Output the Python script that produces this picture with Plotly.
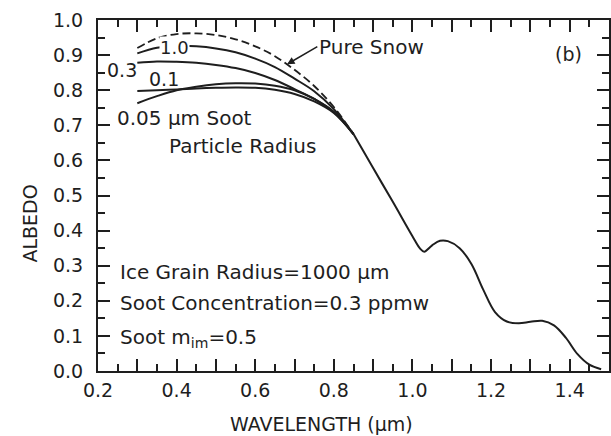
import plotly.graph_objects as go

# wavelength grid (um) for the spectrally separated part of the curves
wl_upper = [0.30, 0.35, 0.40, 0.45, 0.50, 0.55, 0.60, 0.65, 0.70, 0.75, 0.80, 0.85]
pure_snow = [0.920, 0.948, 0.960, 0.962, 0.957, 0.945, 0.925, 0.897, 0.858, 0.812, 0.752, 0.675]
soot_10 = [0.905, 0.921, 0.926, 0.925, 0.919, 0.908, 0.890, 0.866, 0.833, 0.797, 0.746, 0.675]
soot_03 = [0.878, 0.882, 0.881, 0.878, 0.872, 0.863, 0.849, 0.829, 0.803, 0.775, 0.738, 0.675]
soot_01 = [0.798, 0.800, 0.802, 0.805, 0.807, 0.808, 0.807, 0.801, 0.789, 0.768, 0.735, 0.675]
soot_005 = [0.763, 0.783, 0.800, 0.810, 0.817, 0.820, 0.819, 0.813, 0.800, 0.775, 0.738, 0.675]

# common tail (all curves coincide beyond ~0.85 um)
wl_tail = [0.85, 0.90, 0.95, 1.00, 1.02, 1.03, 1.05, 1.07, 1.09, 1.12, 1.15, 1.18,
           1.21, 1.24, 1.27, 1.30, 1.33, 1.36, 1.39, 1.42, 1.45, 1.48]
alb_tail = [0.675, 0.578, 0.482, 0.384, 0.348, 0.340, 0.358, 0.371, 0.370, 0.350, 0.305, 0.232,
            0.168, 0.141, 0.136, 0.140, 0.143, 0.130, 0.095, 0.048, 0.018, 0.005]

xtick_vals = [0.2, 0.3, 0.4, 0.5, 0.6, 0.7, 0.8, 0.9, 1.0, 1.1, 1.2, 1.3, 1.4, 1.5]
xtick_text = ["0.2", "", "0.4", "", "0.6", "", "0.8", "", "1.0", "", "1.2", "", "1.4", ""]
ytick_vals = [0.0, 0.1, 0.2, 0.3, 0.4, 0.5, 0.6, 0.7, 0.8, 0.9, 1.0]
ytick_text = ["0.0", "0.1", "0.2", "0.3", "0.4", "0.5", "0.6", "0.7", "0.8", "0.9", "1.0"]

ink = '#1e1e1e'
font = 'DejaVu Sans'

fig = go.Figure()
for ys in [soot_005, soot_01, soot_03, soot_10]:
    fig.add_trace(go.Scatter(x=wl_upper, y=ys, mode='lines', line_shape='spline',
                             line=dict(color=ink, width=2)))
fig.add_trace(go.Scatter(x=wl_upper, y=pure_snow, mode='lines', line_shape='spline',
                         line=dict(color=ink, width=1.8, dash='8px,4px')))
fig.add_trace(go.Scatter(x=wl_tail, y=alb_tail, mode='lines', line_shape='spline',
                         line=dict(color=ink, width=2)))

def txt(x, y, s, size=20, anchor='center', **kw):
    return dict(x=x, y=y, xref='x', yref='y', text=s, showarrow=False,
                xanchor=anchor, yanchor='middle',
                font=dict(family=font, size=size, color=ink), **kw)

annotations = [
    txt(0.395, 0.922, "1.0", size=18, bgcolor='white', borderpad=0),
    txt(0.262, 0.857, "0.3", size=19),
    txt(0.367, 0.831, "0.1", size=19),
    txt(0.243, 0.720, "0.05 μm Soot", anchor='left'),
    txt(0.375, 0.641, "Particle Radius", anchor='left'),
    txt(1.396, 0.903, "(b)", size=19),
    txt(0.250, 0.283, "Ice Grain Radius=1000 μm", anchor='left'),
    txt(0.250, 0.193, "Soot Concentration=0.3 ppmw", anchor='left'),
    txt(0.250, 0.094, "Soot m<sub>im</sub>=0.5", anchor='left'),
    dict(x=0.681, y=0.874, xref='x', yref='y', ax=0.758, ay=0.924, axref='x', ayref='y',
         text="Pure Snow", xanchor='left', yanchor='middle', showarrow=True, arrowhead=2,
         arrowsize=1, arrowwidth=1.5, arrowcolor=ink,
         font=dict(family=font, size=20, color=ink)),
    dict(x=0.768, y=-0.151, xref='x', yref='paper', text="WAVELENGTH (μm)", showarrow=False,
         xanchor='center', yanchor='middle', font=dict(family=font, size=19, color=ink)),
    dict(x=-0.133, y=0.42, xref='paper', yref='y', text="ALBEDO", textangle=-90,
         showarrow=False, xanchor='center', yanchor='middle',
         font=dict(family=font, size=19, color=ink)),
]

fig.update_layout(
    width=611, height=436,
    margin=dict(l=98, r=0, t=20, b=65),
    paper_bgcolor='white', plot_bgcolor='white',
    showlegend=False,
    font=dict(family=font, size=19, color=ink),
    annotations=annotations,
)

fig.update_xaxes(range=[0.2, 1.5], tickvals=xtick_vals, ticktext=xtick_text,
                 ticks='inside', ticklen=12, tickwidth=1.5, tickcolor=ink,
                 minor=dict(tickvals=[v + 0.05 for v in xtick_vals[:-1]], ticks='inside',
                            ticklen=7, tickwidth=1.5, tickcolor=ink),
                 showline=True, linewidth=2, linecolor=ink, mirror='allticks',
                 showgrid=False, zeroline=False, ticklabelstandoff=1)
fig.update_yaxes(range=[0, 1.0], tickvals=ytick_vals, ticktext=ytick_text,
                 ticks='inside', ticklen=12, tickwidth=1.5, tickcolor=ink,
                 minor=dict(tickvals=[v + 0.05 for v in ytick_vals[:-1]], ticks='inside',
                            ticklen=7, tickwidth=1.5, tickcolor=ink),
                 showline=True, linewidth=2, linecolor=ink, mirror='allticks',
                 showgrid=False, zeroline=False, ticklabelstandoff=9)

fig.write_html("out.html", config={'displayModeBar': False},
               post_script="document.body.style.margin='0';")
